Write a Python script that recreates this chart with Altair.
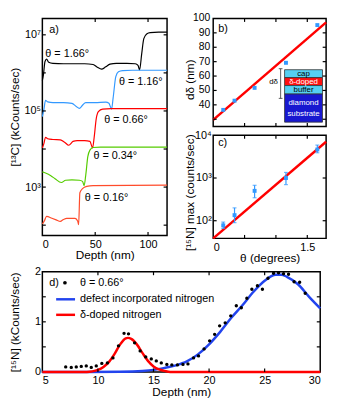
import altair as alt
import pandas as pd

FONT = "Liberation Sans"

# ---------------- panel a: SIMS [13C] profiles (log10 of kCounts/sec) ----------------
a_series = ["θ = 1.66°", "θ = 1.16°", "θ = 0.66°", "θ = 0.34°", "θ = 0.16°"]
a_colors = ["#000000", "#3399FF", "#FF0000", "#55CC00", "#FF4B2B"]

a_depth_166 = [0, 1, 2.5, 4, 6, 10, 20, 30, 40, 48, 52, 56, 60, 64, 70, 80, 88, 90.5, 92, 94, 96, 99, 102, 110, 118]
a_log_166 = [5.80, 5.95, 6.30, 6.36, 6.28, 6.25, 6.24, 6.24, 6.24, 6.22, 6.15, 6.10, 6.16, 6.23, 6.25, 6.25, 6.24, 6.20, 6.08, 6.50, 6.90, 7.03, 7.06, 7.07, 7.07]

a_depth_116 = [0, 1.5, 3, 5, 10, 20, 28, 32, 35, 38, 41, 50, 60, 63, 65.5, 67, 69.5, 72, 76, 85, 118]
a_log_116 = [4.85, 5.05, 5.28, 5.24, 5.22, 5.22, 5.20, 5.12, 5.07, 5.15, 5.22, 5.22, 5.23, 5.20, 5.05, 5.35, 5.90, 6.03, 6.06, 6.07, 6.07]

a_depth_066 = [0, 1.5, 3, 5, 10, 17, 21, 25, 29, 33, 40, 45, 47.5, 49, 51, 53, 57, 65, 118]
a_log_066 = [4.03, 4.15, 4.31, 4.27, 4.25, 4.24, 4.18, 4.10, 4.20, 4.22, 4.22, 4.20, 4.03, 4.30, 4.80, 4.98, 5.05, 5.06, 5.06]

a_depth_034 = [0, 3, 8, 12, 18, 22, 28, 35, 38, 39.5, 41, 43, 45, 48, 55, 118]
a_log_034 = [3.40, 3.37, 3.30, 3.22, 3.12, 3.18, 3.19, 3.18, 3.15, 3.04, 3.30, 3.80, 3.97, 4.04, 4.05, 4.05]

a_depth_016 = [0, 2, 4, 9, 13, 17, 20, 23, 31, 33.5, 34.3, 35.5, 38, 42, 48, 118]
a_log_016 = [2.03, 2.12, 2.23, 2.18, 2.14, 2.10, 2.15, 2.18, 2.18, 2.10, 2.01, 2.85, 2.96, 3.02, 3.04, 3.05]

# ---------------- panel b: delta-layer depth vs miscut angle ----------------
b_theta = [0.16, 0.34, 0.66, 1.16, 1.66]
b_depth = [36.5, 42.9, 51.8, 69.2, 95.4]
b_fit_theta = [0.0, 1.8]
b_fit_depth = [29.6, 97.3]

# ---------------- panel c: [15N] max vs miscut angle ----------------
c_theta = [0.16, 0.34, 0.66, 1.16, 1.66]
c_max = [78, 135, 500, 1000, 4650]
c_low = [66, 90, 345, 700, 3900]
c_high = [93, 200, 675, 1350, 5900]
c_fit_theta = [0.0, 1.8]
c_fit_max = [38.6, 7050]

# ---------------- panel d: [15N] depth profile, theta = 0.66 deg ----------------
d_depth = [7.1, 7.6, 8.05, 8.5, 8.95, 9.4, 9.85, 10.35, 10.85, 11.35, 11.85, 12.35, 12.75, 13.3,
           13.8, 14.3, 14.8, 15.25, 15.7, 16.2, 16.65, 17.15, 17.65, 18.1, 18.6, 19.05, 19.55,
           20.05, 20.5, 20.95, 21.45, 21.95, 22.45, 22.9, 23.4, 23.85, 24.35, 24.8, 25.3, 25.8,
           26.25, 26.7, 27.15, 27.65, 28.15, 28.65]
d_counts = [0.10, 0.09, 0.10, 0.11, 0.12, 0.09, 0.12, 0.17, 0.18, 0.28, 0.52, 0.77, 0.76, 0.58,
            0.42, 0.30, 0.26, 0.22, 0.18, 0.15, 0.14, 0.14, 0.15, 0.16, 0.28, 0.32, 0.46,
            0.62, 0.75, 0.92, 0.98, 1.12, 1.32, 1.28, 1.47, 1.65, 1.72, 1.65, 1.87, 1.97,
            1.98, 1.96, 1.95, 1.80, 1.79, 1.57]
d_red_depth = [5, 9, 9.5, 10, 10.5, 11, 11.5, 12, 12.5, 12.7, 13, 13.5, 14, 14.5, 15, 15.5, 16, 16.5, 30]
d_red_counts = [0, 0, 0.01, 0.04, 0.10, 0.20, 0.36, 0.55, 0.67, 0.68, 0.66, 0.55, 0.38, 0.22, 0.11, 0.05, 0.02, 0, 0]
d_blue_depth = [5, 9, 12, 14, 15, 16, 17, 18, 19, 20, 21, 22, 23, 24, 25, 26, 26.5, 27, 28, 29, 30]
d_blue_counts = [0, 0, 0.005, 0.02, 0.04, 0.08, 0.13, 0.21, 0.35, 0.55, 0.80, 1.08, 1.33, 1.60, 1.82, 1.94, 1.94, 1.90, 1.75, 1.50, 1.27]

# ---------------- tick values ----------------
a_xticks = [50, 100]
a_yticks = [1e2, 1e3, 1e4, 1e5, 1e6, 1e7]
bc_xticks = [0.5, 1, 1.5]
b_yticks = [30, 40, 50, 60, 70, 80, 90]
b_ylabels = [40, 50, 60, 70, 80, 90, 100]
c_yticks = [1e2, 1e3]
d_xticks = [10, 15, 20, 25]
d_yticks = [0.5, 1, 1.5]

# ---------------- annotation positions (data coordinates) ----------------
a_lab_x = [2.8, 72.5, 58.5, 48.3, 40]
a_lab_log = [6.49, 5.75, 4.77, 3.82, 2.71]

LOG_SUP = ("'10' + (round(log(datum.value)/LN10)==2 ? '²' : round(log(datum.value)/LN10)==3 ? '³' : "
           "round(log(datum.value)/LN10)==4 ? '⁴' : round(log(datum.value)/LN10)==5 ? '⁵' : "
           "round(log(datum.value)/LN10)==6 ? '⁶' : '⁷')")
TL = 3.5  # inward tick length (px)


def tag(df, xf, yf, size=11):
    return alt.Chart(df).mark_text(align="left", baseline="middle", fontSize=size, font=FONT,
                                   color="black").encode(x=f"{xf}:Q", y=f"{yf}:Q", text="text:N")


def inner_ticks(xfield, xvals, yfield, yvals, W, H, top=True):
    layers = []
    xdf = pd.DataFrame({xfield: xvals})
    ydf = pd.DataFrame({yfield: yvals})
    rule = dict(color="black", strokeWidth=1.2)
    layers.append(alt.Chart(xdf).mark_rule(**rule).encode(
        x=f"{xfield}:Q", y=alt.value(H), y2=alt.value(H - TL)))
    if top:
        layers.append(alt.Chart(xdf).mark_rule(**rule).encode(
            x=f"{xfield}:Q", y=alt.value(0), y2=alt.value(TL)))
    layers.append(alt.Chart(ydf).mark_rule(**rule).encode(
        y=f"{yfield}:Q", x=alt.value(0), x2=alt.value(TL)))
    layers.append(alt.Chart(ydf).mark_rule(**rule).encode(
        y=f"{yfield}:Q", x=alt.value(W), x2=alt.value(W - TL)))
    return layers


# ======== build panel a ========
AW, AH = 127, 221
rows = []
for name, col, dd, ll in zip(a_series, a_colors,
                             [a_depth_166, a_depth_116, a_depth_066, a_depth_034, a_depth_016],
                             [a_log_166, a_log_116, a_log_066, a_log_034, a_log_016]):
    for d, l in zip(dd, ll):
        rows.append({"series": name, "col": col, "depth": d, "val": 10 ** l})
a_df = pd.DataFrame(rows)

ax_a_x = alt.X("depth:Q", scale=alt.Scale(domain=[0, 118], nice=False, zero=False),
               axis=alt.Axis(values=[0, 50, 100], title="Depth (nm)", labelPadding=3,
                             titlePadding=1, titleFontSize=12))
ax_a_y = alt.Y("val:Q", scale=alt.Scale(type="log", domain=[10 ** 1.73, 10 ** 7.43], nice=False),
               axis=alt.Axis(values=[1e3, 1e5, 1e7], labelExpr=LOG_SUP, title="[¹³C]  (kCounts/sec)",
                             minExtent=18, maxExtent=18, titlePadding=3, titleFontSize=12, titleY=100))
a_lines = alt.Chart(a_df).mark_line(strokeWidth=1.2, interpolate="monotone").encode(
    x=ax_a_x, y=ax_a_y,
    color=alt.Color("col:N", scale=None),
    detail="series:N",
)
a_lab_df = pd.DataFrame({"depth": a_lab_x, "val": [10 ** v for v in a_lab_log], "text": a_series})
a_text = tag(a_lab_df, "depth", "val")
a_tag = tag(pd.DataFrame({"depth": [6.5], "val": [10 ** 7.12], "text": ["a)"]}), "depth", "val")
panel_a = alt.layer(a_lines, a_text, a_tag,
                    *inner_ticks("depth", a_xticks, "val", a_yticks, AW, AH)).properties(width=AW, height=AH)

# ======== build panel b ========
BW, BH = 115, 110
TH_SCALE = alt.Scale(domain=[0, 1.8], nice=False, zero=False)
b_pts = pd.DataFrame({"theta": b_theta, "d": b_depth})
b_fit = pd.DataFrame({"theta": b_fit_theta, "d": b_fit_depth})
bx = alt.X("theta:Q", scale=TH_SCALE, axis=None)
by = alt.Y("d:Q", scale=alt.Scale(domain=[25, 100], nice=False, zero=False),
           axis=alt.Axis(values=b_ylabels, title="dδ (nm)", labels=False,
                         minExtent=17, maxExtent=17, titlePadding=0, titleFontSize=12, titleY=62))
b_line = alt.Chart(b_fit).mark_line(color="#FF0000", strokeWidth=2.5).encode(x=bx, y=by)
b_dots = alt.Chart(b_pts).mark_point(filled=True, shape="square", size=16, color="#3399FF",
                                     opacity=1).encode(x="theta:Q", y="d:Q")
# y tick labels of panel b (drawn through the y scale)
b_lab_df = pd.DataFrame({"d": b_ylabels, "text": [str(v) for v in b_ylabels]})
b_ylab = alt.Chart(b_lab_df).mark_text(align="right", baseline="middle", fontSize=10.5, font=FONT,
                                       color="black").encode(x=alt.value(-3), y="d:Q", text="text:N")

# inset layer stack
stack = pd.DataFrame({
    "x1": [1.138] * 4, "x2": [1.742] * 4,
    "y1": [64.4, 58.9, 53.4, 47.5], "y2": [58.9, 53.4, 47.5, 28.0],
    "fillc": ["#55D0F2", "#FF1010", "#55D0F2", "#1818D0"],
})
stack_rect = alt.Chart(stack).mark_rect(stroke="#333333", strokeWidth=0.8).encode(
    x="x1:Q", x2="x2:Q", y="y1:Q", y2="y2:Q", color=alt.Color("fillc:N", scale=None))
stack_lab = pd.DataFrame({
    "x": [1.44] * 5, "y": [61.65, 56.15, 50.45, 41.0, 33.5],
    "text": ["cap", "δ-doped", "buffer", "diamond", "substrate"],
    "tc": ["black", "white", "black", "white", "white"],
})
stack_text = alt.Chart(stack_lab).mark_text(fontSize=8, font=FONT, baseline="middle").encode(
    x="x:Q", y="y:Q", text="text:N", color=alt.Color("tc:N", scale=None))
bracket = pd.DataFrame({"x": [1.075, 1.045, 1.045], "x2": [1.075, 1.105, 1.105],
                        "y": [65.1, 65.1, 44.5], "y2": [44.5, 65.1, 44.5]})
bracket_rule = alt.Chart(bracket).mark_rule(color="#333333", strokeWidth=0.8).encode(
    x="x:Q", x2="x2:Q", y="y:Q", y2="y2:Q")
bracket_lab = alt.Chart(pd.DataFrame({"x": [0.962], "y": [55.9], "text": ["dδ"]})).mark_text(
    fontSize=8, font=FONT, color="black").encode(x="x:Q", y="y:Q", text="text:N")
b_tag = tag(pd.DataFrame({"theta": [0.08], "d": [92.4], "text": ["b)"]}), "theta", "d")
panel_b = alt.layer(b_line, stack_rect, stack_text, bracket_rule, bracket_lab, b_tag, b_ylab, b_dots,
                    *inner_ticks("theta", bc_xticks, "d", b_yticks, BW, BH)).properties(width=BW, height=BH)

# ======== build panel c ========
CW, CH = 115, 105
c_pts = pd.DataFrame({"theta": c_theta, "m": c_max, "lo": c_low, "hi": c_high})
c_fit = pd.DataFrame({"theta": c_fit_theta, "m": c_fit_max})
cx = alt.X("theta:Q", scale=TH_SCALE,
           axis=alt.Axis(values=[0, 0.5, 1, 1.5], format="~g", title="θ (degrees)", labelPadding=3,
                         titlePadding=1, titleFontSize=12))
cy = alt.Y("m:Q", scale=alt.Scale(type="log", domain=[38.6, 10000], nice=False),
           axis=alt.Axis(values=[100, 1000, 10000], labelExpr=LOG_SUP, title="[¹⁵N] max (counts/sec)",
                         minExtent=15, maxExtent=15, titlePadding=2, titleFontSize=12, titleY=58))
c_line = alt.Chart(c_fit).mark_line(color="#FF0000", strokeWidth=2.5).encode(x=cx, y=cy)
c_err = alt.Chart(c_pts).mark_rule(color="#3399FF", strokeWidth=1.2).encode(x="theta:Q", y="lo:Q", y2="hi:Q")
c_cap_lo = alt.Chart(c_pts).mark_tick(color="#3399FF", orient="horizontal", size=4, thickness=1.2).encode(
    x="theta:Q", y="lo:Q")
c_cap_hi = alt.Chart(c_pts).mark_tick(color="#3399FF", orient="horizontal", size=4, thickness=1.2).encode(
    x="theta:Q", y="hi:Q")
c_dots = alt.Chart(c_pts).mark_point(filled=True, shape="square", size=16, color="#3399FF",
                                     opacity=1).encode(x="theta:Q", y="m:Q")
c_tag = tag(pd.DataFrame({"theta": [0.08], "m": [6600], "text": ["c)"]}), "theta", "m")
panel_c = alt.layer(c_line, c_err, c_cap_lo, c_cap_hi, c_dots, c_tag,
                    *inner_ticks("theta", bc_xticks, "m", c_yticks, CW, CH)).properties(width=CW, height=CH)

# ======== build panel d ========
DW, DH = 283, 102
d_pts = pd.DataFrame({"depth": d_depth, "n": d_counts})
d_red = pd.DataFrame({"depth": d_red_depth, "n": d_red_counts})
d_blue = pd.DataFrame({"depth": d_blue_depth, "n": d_blue_counts})
dx = alt.X("depth:Q", scale=alt.Scale(domain=[5, 30], nice=False, zero=False),
           axis=alt.Axis(values=[5, 10, 15, 20, 25, 30], title="Depth (nm)", labelPadding=3,
                         titlePadding=1, titleFontSize=12))
dy = alt.Y("n:Q", scale=alt.Scale(domain=[0, 2], nice=False),
           axis=alt.Axis(values=[0, 0.5, 1, 1.5, 2], format="~g", title="[¹⁵N] (kCounts/sec)",
                         minExtent=18, maxExtent=18, titlePadding=3, titleFontSize=12))
d_blue_line = alt.Chart(d_blue).mark_line(color="#2244EE", strokeWidth=2.5, interpolate="monotone").encode(x=dx, y=dy)
d_red_line = alt.Chart(d_red).mark_line(color="#FF0000", strokeWidth=2.5, interpolate="monotone").encode(x="depth:Q", y="n:Q")
d_dots = alt.Chart(d_pts).mark_circle(size=12, color="black", opacity=1).encode(x="depth:Q", y="n:Q")

leg_sym_pt = alt.Chart(pd.DataFrame({"depth": [7.03], "n": [1.78]})).mark_circle(
    size=14, color="black", opacity=1).encode(x="depth:Q", y="n:Q")
leg_lines = pd.DataFrame({"depth": [6.24, 6.24], "x2": [7.94, 7.94], "n": [1.45, 1.14],
                          "c": ["#2244EE", "#FF0000"]})
leg_rules = alt.Chart(leg_lines).mark_rule(strokeWidth=2.5).encode(
    x="depth:Q", x2="x2:Q", y="n:Q", color=alt.Color("c:N", scale=None))
leg_text = pd.DataFrame({"depth": [5.62, 8.38, 8.38, 8.38], "n": [1.78, 1.78, 1.45, 1.14],
                         "text": ["d)", "θ = 0.66°", "defect incorporated nitrogen", "δ-doped nitrogen"]})
leg_texts = tag(leg_text, "depth", "n")
panel_d = alt.layer(d_blue_line, d_red_line, d_dots, leg_sym_pt, leg_rules, leg_texts,
                    *inner_ticks("depth", d_xticks, "n", d_yticks, DW, DH)).properties(width=DW, height=DH)

top = alt.hconcat(panel_a, alt.vconcat(panel_b, panel_c, spacing=0), spacing=12)
chart = alt.vconcat(top, panel_d, spacing=0).properties(
    padding={"left": 0, "top": 1, "right": 0, "bottom": 0}
).configure_view(stroke="black", strokeWidth=1.5).configure_axis(
    grid=False, domain=False, ticks=False, labelFont=FONT, titleFont=FONT, labelFontSize=11,
    titleFontWeight="normal", labelColor="black", titleColor="black", labelOverlap=False
).configure_concat(spacing=0)

chart.save("out.html", embed_options={"renderer": "svg", "actions": False})
